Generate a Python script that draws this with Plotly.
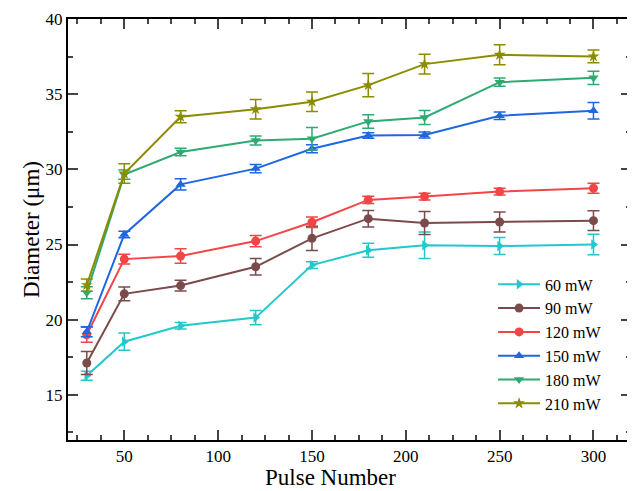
import plotly.graph_objects as go

pulses = [30, 50, 80, 120, 150, 180, 210, 250, 300]
labels = ["60 mW", "90 mW", "120 mW", "150 mW", "180 mW", "210 mW"]

d60 = [16.28, 18.54, 19.6, 20.14, 23.63, 24.62, 24.95, 24.9, 25.0]
e60 = [0.3, 0.57, 0.22, 0.48, 0.22, 0.47, 0.88, 0.57, 0.68]
d90 = [17.12, 21.72, 22.27, 23.52, 25.41, 26.72, 26.43, 26.5, 26.59]
e90 = [0.77, 0.46, 0.36, 0.55, 0.8, 0.55, 0.77, 0.66, 0.66]
d120 = [19.0, 24.03, 24.24, 25.23, 26.48, 27.97, 28.19, 28.52, 28.74]
e120 = [0.5, 0.33, 0.48, 0.37, 0.35, 0.24, 0.22, 0.22, 0.33]
d150 = [19.2, 25.67, 29.0, 30.05, 31.37, 32.25, 32.29, 33.57, 33.9]
e150 = [0.33, 0.22, 0.38, 0.28, 0.27, 0.18, 0.2, 0.25, 0.55]
d180 = [21.8, 29.65, 31.15, 31.92, 32.03, 33.19, 33.45, 35.8, 36.09]
e180 = [0.4, 0.3, 0.25, 0.3, 0.75, 0.45, 0.46, 0.28, 0.44]
d210 = [22.3, 29.72, 33.5, 34.0, 34.5, 35.6, 37.0, 37.62, 37.51]
e210 = [0.4, 0.65, 0.4, 0.65, 0.65, 0.77, 0.65, 0.66, 0.42]

series = [d60, d90, d120, d150, d180, d210]
errors = [e60, e90, e120, e150, e180, e210]
colors = ["#22c8cc", "#7b4b4b", "#f24545", "#1f66e0", "#2eaa72", "#8c8c00"]
symbols = ["triangle-right", "circle", "circle", "triangle-up", "triangle-down", "star"]

FAM = "Liberation Serif, Times New Roman, serif"

fig = go.Figure()
for name, ys, es, c, s in zip(labels, series, errors, colors, symbols):
    fig.add_trace(go.Scatter(
        x=pulses, y=ys, name=name, mode="lines+markers",
        line=dict(color=c, width=2),
        marker=dict(symbol=s, size=9, color=c),
        error_y=dict(type="data", array=es, color=c, thickness=1.5, width=6),
    ))

fig.update_layout(
    width=627, height=483,
    margin=dict(l=60, r=2, t=7, b=51),
    paper_bgcolor="white", plot_bgcolor="white",
    font=dict(family=FAM, color="black", size=17),
    legend=dict(x=0.755, y=0.41, xanchor="left", yanchor="top",
                bgcolor="rgba(0,0,0,0)", font=dict(family=FAM, size=16, color="black"),
                tracegroupgap=0, itemwidth=42),
    showlegend=True,
    annotations=[dict(text="Pulse Number", xref="paper", yref="paper",
                      x=0.4655, y=-0.089, xanchor="center", yanchor="middle",
                      showarrow=False, font=dict(family=FAM, size=23, color="black"))],
)
fig.update_xaxes(
    range=[20, 320], tick0=0, dtick=50, ticks="inside", ticklen=10, tickwidth=2,
    showline=True, linecolor="black", linewidth=2, mirror="ticks",
    showgrid=False, zeroline=False, ticklabeloverflow="allow",
    minor=dict(ticks="inside", dtick=12.5, tick0=0, ticklen=5, tickwidth=2, showgrid=False),
    tickfont=dict(family=FAM, size=17, color="black"),
)
fig.update_yaxes(
    range=[12, 40], tick0=0, dtick=5, ticks="inside", ticklen=10, tickwidth=2,
    showline=True, linecolor="black", linewidth=2, mirror="ticks",
    showgrid=False, zeroline=False, ticklabeloverflow="allow",
    minor=dict(ticks="inside", dtick=2.5, tick0=0, ticklen=5, tickwidth=2, showgrid=False),
    title=dict(text="Diameter (μm)", font=dict(family=FAM, size=23, color="black"), standoff=0),
    tickfont=dict(family=FAM, size=17, color="black"),
)
fig.write_html("out.html")
